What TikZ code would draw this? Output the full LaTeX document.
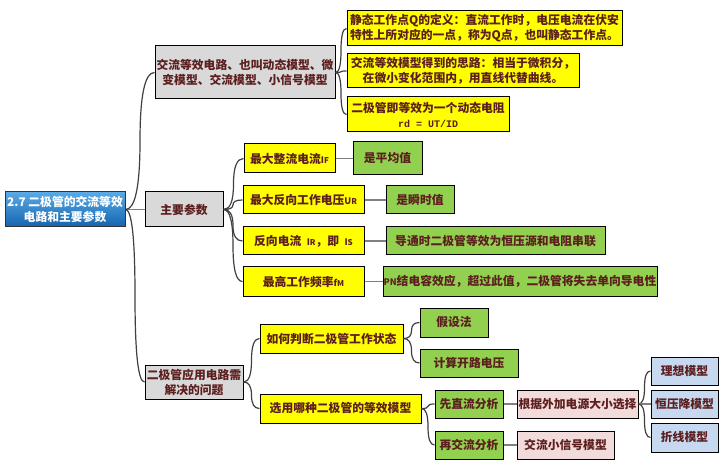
\documentclass[tikz,border=0pt]{standalone}
\usepackage{fontspec}
\setmainfont{Noto Sans CJK SC}
\newfontfamily\monofont{Liberation Mono}
\usetikzlibrary{calc}
\definecolor{txt}{RGB}{92,30,30}
\definecolor{grayfill}{RGB}{217,217,217}
\definecolor{yel}{RGB}{255,255,0}
\definecolor{grn}{RGB}{146,208,80}
\definecolor{pnk}{RGB}{242,220,219}
\definecolor{blu}{RGB}{198,217,241}
\definecolor{curvec}{RGB}{64,64,64}
\definecolor{straightc}{RGB}{128,128,128}
\tikzset{
  box/.style={draw=black, line width=1pt, inner sep=0pt, align=center, text=txt,
    font=\bfseries\fontsize{11.8}{15}\selectfont},
  gbox/.style={box, fill=grayfill},
  ybox/.style={box, fill=yel},
  grbox/.style={box, fill=grn},
  pbox/.style={box, fill=pnk},
  bbox/.style={box, fill=blu},
  rootbox/.style={draw=black!80, line width=1pt, inner sep=0pt, align=center, text=white,
    top color={rgb,255:red,90;green,170;blue,230}, bottom color={rgb,255:red,20;green,100;blue,175},
    font=\bfseries\fontsize{11.8}{15}\selectfont},
  straight/.style={draw=straightc, line width=1.8pt},
  br/.style={draw=curvec, line width=1.2pt,
    to path={let \p1=(\tikztostart), \p2=(\tikztotarget) in
      (\p1) .. controls ({\x1+(\x2-\x1)/3},\y1) and ({(\x1+\x2)/2},{(5*\y1+\y2)/6})
      .. ({(\x1+\x2)/2},{(\y1+\y2)/2})
      .. controls ({(\x1+\x2)/2},{(\y1+5*\y2)/6}) and ({\x2-(\x2-\x1)/3},\y2) .. (\p2)}}
}
\begin{document}
\begin{tikzpicture}[x=1pt,y=-1pt]
\fill[white] (0,0) rectangle (725,470);
\useasboundingbox (0,0) rectangle (725,470);

% nodes
\node[rootbox, minimum width=120pt, minimum height=35pt] (root) at (65,209.5) {2.7 二极管的交流等效\\电路和主要参数};
\node[gbox, minimum width=180pt, minimum height=53pt] (A) at (245,72.5) {交流等效电路、也叫动态模型、微\\变模型、交流模型、小信号模型};
\node[gbox, minimum width=78pt, minimum height=35pt] (B) at (184,209.5) {主要参数};
\node[gbox, minimum width=98pt, minimum height=34pt] (C) at (194,382) {二极管应用电路需\\解决的问题};

\node[ybox, minimum width=275pt, minimum height=35pt] (A1) at (484.5,28.5) {静态工作点Q的定义：直流工作时，电压电流在伏安\\特性上所对应的一点，称为Q点，也叫静态工作点。};
\node[ybox, minimum width=232pt, minimum height=34pt] (A2) at (463,71) {交流等效模型得到的思路：相当于微积分，\\在微小变化范围内，用直线代替曲线。};
\node[ybox, minimum width=162pt, minimum height=35pt] (A3) at (428,114.5) {二极管即等效为一个动态电阻\\{\monofont\bfseries\fontsize{10}{12}\selectfont rd = UT/ID}};

\node[ybox, minimum width=91pt, minimum height=29pt] (B1) at (289.5,158.5) {最大整流电流{\small I}{\footnotesize F}};
\node[ybox, minimum width=121pt, minimum height=28pt] (B2) at (303.5,200) {最大反向工作电压{\small U}{\footnotesize R}};
\node[ybox, minimum width=121pt, minimum height=28pt] (B3) at (303.5,241) {反向电流\ \ {\small I}{\footnotesize R}，即\ \ {\small I}{\footnotesize S}};
\node[ybox, minimum width=121pt, minimum height=29pt] (B4) at (303.5,281.5) {最高工作频率{\small f}{\footnotesize M}};

\node[grbox, minimum width=69pt, minimum height=33pt] (B1a) at (387.5,158.5) {是平均值};
\node[grbox, minimum width=68pt, minimum height=28pt] (B2a) at (420,200) {是瞬时值};
\node[grbox, minimum width=219pt, minimum height=28pt] (B3a) at (495.5,241) {导通时二极管等效为恒压源和电阻串联};
\node[grbox, minimum width=274pt, minimum height=29pt] (B4a) at (520,281.5) {{\small PN}结电容效应，超过此值，二极管将失去单向导电性};

\node[ybox, minimum width=143pt, minimum height=29pt] (C1) at (331.5,338.5) {如何判断二极管工作状态};
\node[ybox, minimum width=161pt, minimum height=29pt] (C2) at (340.5,408.5) {选用哪种二极管的等效模型};

\node[grbox, minimum width=68pt, minimum height=29pt] (C1a) at (454,322.5) {假设法};
\node[grbox, minimum width=98pt, minimum height=28pt] (C1b) at (469,363) {计算开路电压};
\node[grbox, minimum width=68pt, minimum height=28pt] (C2a) at (469,404) {先直流分析};
\node[grbox, minimum width=68pt, minimum height=28pt] (C2b) at (469,445) {再交流分析};

\node[pbox, minimum width=121pt, minimum height=28pt] (C2a1) at (577.5,404) {根据外加电源大小选择};
\node[pbox, minimum width=97pt, minimum height=28pt] (C2b1) at (565.5,445) {交流小信号模型};

\node[bbox, minimum width=67pt, minimum height=28pt] (D1) at (684.5,371) {理想模型};
\node[bbox, minimum width=67pt, minimum height=28pt] (D2) at (684.5,404) {恒压降模型};
\node[bbox, minimum width=67pt, minimum height=29pt] (D3) at (684.5,437.5) {折线模型};

% connectors
\draw[straight] (root) -- (B);
\draw[br] (root.east) to (A.west);
\draw[br] (root.east) to (C.west);

\draw[br] (A.east) to (A1.west);
\draw[br] (A.east) to (A2.west);
\draw[br] (A.east) to (A3.west);

\draw[br] (B.east) to (B1.west);
\draw[br] (B.east) to (B2.west);
\draw[br] (B.east) to (B3.west);
\draw[br] (B.east) to (B4.west);

\draw[straight] (B1) -- (B1a);
\draw[straight] (B2) -- (B2a);
\draw[straight] (B3) -- (B3a);
\draw[straight] (B4) -- (B4a);

\draw[br] (C.east) to (C1.west);
\draw[br] (C.east) to (C2.west);
\draw[br] (C1.east) to (C1a.west);
\draw[br] (C1.east) to (C1b.west);
\draw[br] (C2.east) to (C2a.west);
\draw[br] (C2.east) to (C2b.west);

\draw[straight] (C2a) -- (C2a1);
\draw[straight] (C2b) -- (C2b1);

\draw[br] (C2a1.east) to (D1.west);
\draw[straight] (C2a1) -- (D2);
\draw[br] (C2a1.east) to (D3.west);
\end{tikzpicture}
\end{document}
